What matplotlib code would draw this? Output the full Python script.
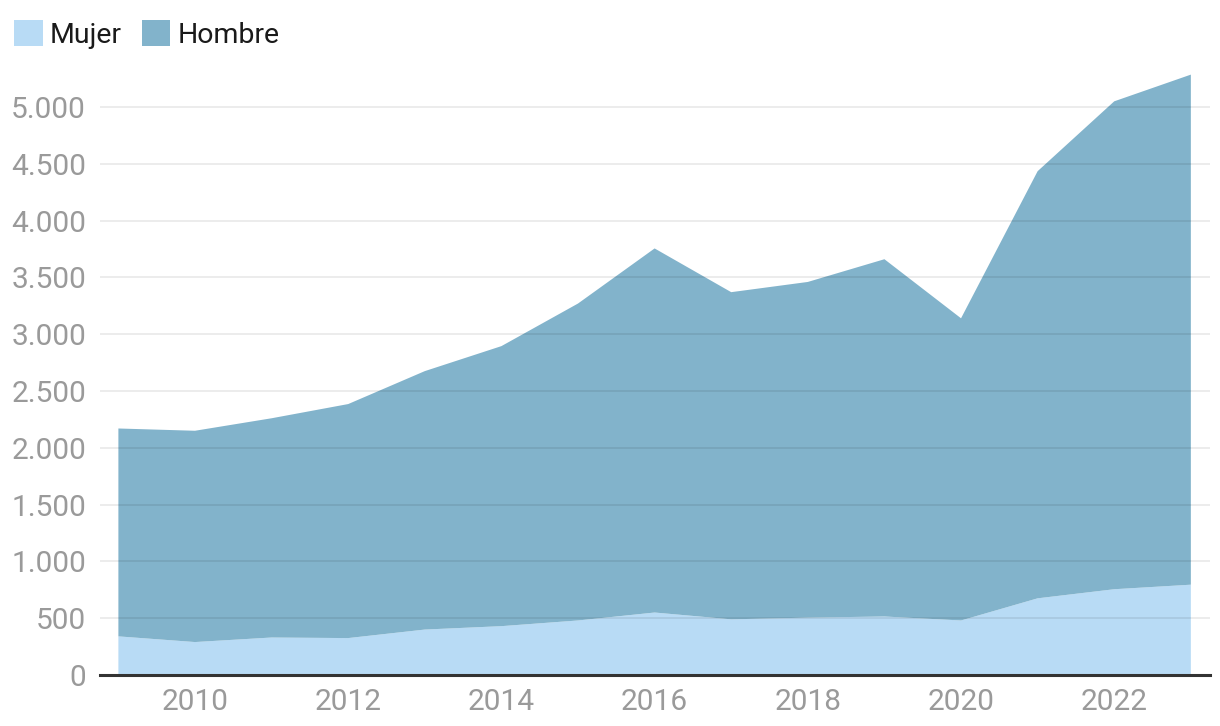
import matplotlib
matplotlib.use("Agg")
import matplotlib.pyplot as plt
from matplotlib.patches import Patch
from matplotlib.ticker import FuncFormatter

years = [2009, 2010, 2011, 2012, 2013, 2014, 2015, 2016, 2017, 2018, 2019, 2020, 2021, 2022, 2023]
mujer = [340, 290, 330, 325, 400, 430, 480, 550, 490, 505, 515, 480, 675, 755, 795]
total = [2170, 2150, 2260, 2385, 2675, 2895, 3270, 3755, 3370, 3460, 3660, 3140, 4435, 5050, 5285]
hombre = [t - m for t, m in zip(total, mujer)]

yticks = [0, 500, 1000, 1500, 2000, 2500, 3000, 3500, 4000, 4500, 5000]
xticks = [2010, 2012, 2014, 2016, 2018, 2020, 2022]

c_mujer = "#b8dbf5"
c_hombre = "#82b3cb"

plt.rcParams['font.family'] = ['Roboto', 'DejaVu Sans']

fig = plt.figure(figsize=(12.2, 7.26), dpi=100)
ax = fig.add_axes([100/1220, 1-675/726, 1110/1220, (675-60)/726])

ax.stackplot(years, mujer, hombre, colors=[c_mujer, c_hombre], linewidth=0, zorder=1)

ax.set_xlim(2008.76, 2023.25)
ax.set_ylim(0, 5000 * (675-60) / (675-107))
ax.set_yticks(yticks)
ax.set_xticks(xticks)
ax.yaxis.set_major_formatter(FuncFormatter(lambda v, p: f"{int(v):,}".replace(",", ".")))
for y in yticks[1:]:
    ax.axhline(y, color="black", alpha=0.09, lw=1.2, zorder=2)

for s in ["top", "right", "left"]:
    ax.spines[s].set_visible(False)
ax.spines["bottom"].set_color("#333333")
ax.spines["bottom"].set_linewidth(2.2)
ax.spines["bottom"].set_zorder(3)
ax.tick_params(axis="both", length=0, labelsize=21.5, labelcolor="#9a9a9a")
ax.tick_params(axis="y", pad=10)
ax.tick_params(axis="x", pad=9)

handles = [Patch(facecolor=c_mujer, label="Mujer"), Patch(facecolor=c_hombre, label="Hombre")]
leg = fig.legend(handles=handles, loc="upper left", bbox_to_anchor=(0.0, 0.992), ncol=2, frameon=False,
                 fontsize=20.5, handlelength=1.0, handleheight=1.0, handletextpad=0.25, columnspacing=0.7,
                 borderaxespad=0.2, borderpad=0.3)
for t in leg.get_texts():
    t.set_color("#1a1a1a")

fig.savefig("out.png", dpi=100)
